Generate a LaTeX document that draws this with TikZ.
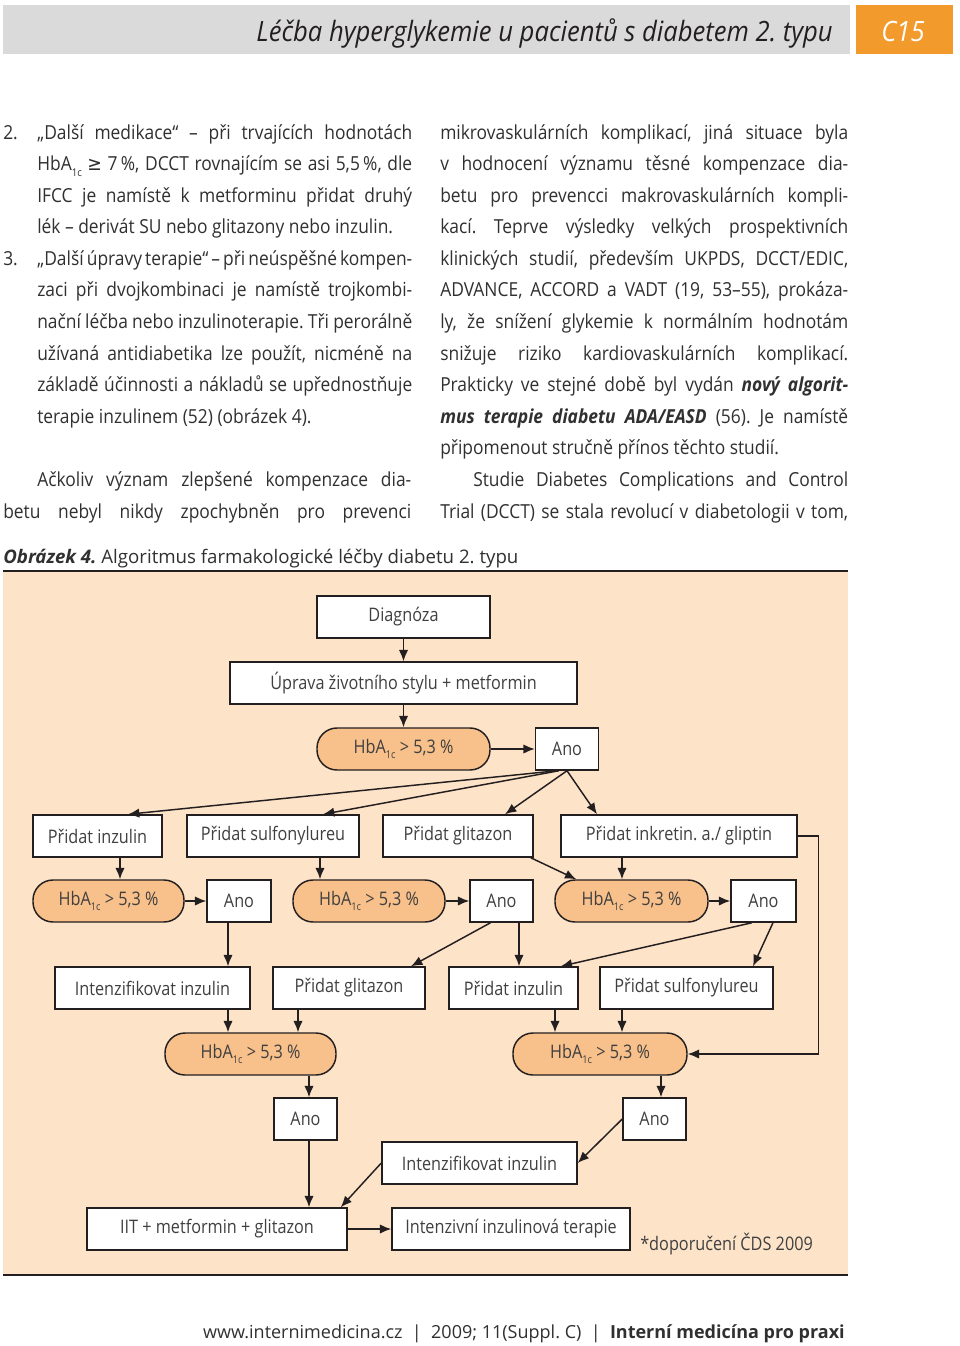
\documentclass[tikz,border=0pt]{standalone}
\usepackage{fontspec}
\setmainfont{Open Sans}[FakeStretch=0.9]
\newfontfamily\dfont{Open Sans}[FakeStretch=0.87]
\newfontfamily\hfont{Open Sans}[FakeStretch=0.915]
\newfontfamily\cfont{Open Sans}[FakeStretch=1.0]
\newfontfamily\symf{DejaVu Sans}[FakeStretch=0.9]
\usetikzlibrary{arrows.meta,calc}
\definecolor{peach}{HTML}{FDE3C8}
\definecolor{orf}{HTML}{F8C08A}
\definecolor{lc}{HTML}{231F20}
\definecolor{tc}{HTML}{404040}
\definecolor{bodyc}{HTML}{303030}
\definecolor{hdr}{HTML}{DADADA}
\definecolor{hor}{HTML}{F39A2C}
\newcommand\hba{HbA\raisebox{-0.55ex}{\fontsize{8}{8}\selectfont 1c}}
\newcommand\jl[2]{\makebox[#1][s]{#2}}
\tikzset{
  body/.style={anchor=base west, inner sep=0pt, text=bodyc, font=\fontsize{14.5}{17}\selectfont},
  box/.style={draw=lc, fill=white, line width=1.1pt, inner sep=0pt, text=tc, font=\dfont\fontsize{14}{16}\selectfont},
  hbox/.style={box, fill=orf, rounded corners=15pt},
  wh/.style 2 args={minimum width=#1*0.75pt, minimum height=#2*0.75pt},
  arr/.style={draw=lc, line width=1.1pt, -{Latex[length=8.5pt,width=7pt]}}
}
\begin{document}
\frenchspacing
\begin{tikzpicture}[x=0.75pt,y=-0.75pt]
\path[use as bounding box, fill=white] (0,0) rectangle (960,1346);
% header
\fill[hdr] (3,5) rectangle (850,54);
\fill[hor] (856,5) rectangle (953,54);
\node[anchor=base east, inner sep=0pt, text=lc] (title) at (833,41) {\hfont\itshape\fontsize{21}{24}\selectfont Léčba hyperglykemie u pacientů s diabetem 2. typu};
\node[anchor=base, inner sep=0pt, text=white] (c15) at (903,41) {\hfont\itshape\fontsize{21}{24}\selectfont C15};
% left column
\node[body] (l0n) at (3,139) {2.};
\node[body] (l0) at (37,139) {\jl{281.25pt}{„Další medikace“ – při trvajících hodnotách}};
\node[body] (l1) at (37,170.6) {\jl{281.25pt}{\hba\ {\symf ≥} 7\,\%, DCCT rovnajícím se asi 5,5\,\%, dle}};
\node[body] (l2) at (37,202.2) {\jl{281.25pt}{IFCC je namístě k metforminu přidat druhý}};
\node[body] (l3) at (37,233.7) {lék – derivát SU nebo glitazony nebo inzulin.};
\node[body] (l4n) at (3,265.3) {3.};
\node[body] (l4) at (37,265.3) {\jl{281.25pt}{„Další úpravy terapie“ – při neúspěšné kompen-}};
\node[body] (l5) at (37,296.9) {\jl{281.25pt}{zaci při dvojkombinaci je namístě trojkombi-}};
\node[body] (l6) at (37,328.5) {\jl{281.25pt}{nační léčba nebo inzulinoterapie. Tři perorálně}};
\node[body] (l7) at (37,360.1) {\jl{281.25pt}{užívaná antidiabetika lze použít, nicméně na}};
\node[body] (l8) at (37,391.6) {\jl{281.25pt}{základě účinnosti a nákladů se upřednostňuje}};
\node[body] (l9) at (37,423.2) {terapie inzulinem (52) (obrázek 4).};
\node[body] (l11) at (37,486.4) {\jl{280.5pt}{Ačkoliv význam zlepšené kompenzace dia-}};
\node[body] (l12) at (3,518) {\jl{306pt}{betu nebyl nikdy zpochybněn pro prevenci}};
% right column
\node[body] (r0) at (440,139) {\jl{306pt}{mikrovaskulárních komplikací, jiná situace byla}};
\node[body] (r1) at (440,170.6) {\jl{306pt}{v hodnocení významu těsné kompenzace dia-}};
\node[body] (r2) at (440,202.2) {\jl{306pt}{betu pro prevencci makrovaskulárních kompli-}};
\node[body] (r3) at (440,233.7) {\jl{306pt}{kací. Teprve výsledky velkých prospektivních}};
\node[body] (r4) at (440,265.3) {\jl{306pt}{klinických studií, především UKPDS, DCCT/EDIC,}};
\node[body] (r5) at (440,296.9) {\jl{306pt}{ADVANCE, ACCORD a VADT (19, 53–55), prokáza-}};
\node[body] (r6) at (440,328.5) {\jl{306pt}{ly, že snížení glykemie k normálním hodnotám}};
\node[body] (r7) at (440,360.1) {\jl{306pt}{snižuje riziko kardiovaskulárních komplikací.}};
\node[body] (r8) at (440,391.6) {\jl{306pt}{Prakticky ve stejné době byl vydán \textbf{\textit{nový algorit-}}}};
\node[body] (r9) at (440,423.2) {\jl{306pt}{\textbf{\textit{mus terapie diabetu ADA/EASD}} (56). Je namístě}};
\node[body] (r10) at (440,454.8) {připomenout stručně přínos těchto studií.};
\node[body] (r11) at (473,486.4) {\jl{281.25pt}{Studie Diabetes Complications and Control}};
\node[body] (r12) at (440,518) {\jl{306pt}{Trial (DCCT) se stala revolucí v diabetologii v tom,}};
% caption
\node[anchor=base west, inner sep=0pt, text=bodyc] (cap) at (3,563) {\cfont\fontsize{14}{16}\selectfont\textbf{\textit{Obrázek 4.}} Algoritmus farmakologické léčby diabetu 2. typu};
% figure panel
\fill[peach] (3,572) rectangle (848,1274);
\draw[lc, line width=1.8pt] (3,571) -- (848,571);
\draw[lc, line width=1.5pt] (3,1275) -- (848,1275);
% nodes
\node[box, wh={173}{42}] (diag) at (403.5,617) {Diagnóza};
\node[box, wh={347}{42}] (uprava) at (403.5,683) {Úprava životního stylu + metformin};
\node[hbox, wh={173}{42}] (h0) at (403.5,749) {\hba\ > 5,3 \%};
\node[box, wh={63}{42}] (a0) at (567,749) {Ano};
\node[box, wh={129}{42}] (p1) at (97.5,836) {Přidat inzulin};
\node[box, wh={172}{42}] (p2) at (273,836) {Přidat sulfonylureu};
\node[box, wh={150}{42}] (p3) at (458,836) {Přidat glitazon};
\node[box, wh={236}{42}] (p4) at (679,836) {Přidat inkretin. a./ gliptin};
\node[hbox, wh={151}{42}] (h1) at (108.5,901) {\hba\ > 5,3 \%};
\node[box, wh={64}{42}] (a1) at (239,901) {Ano};
\node[hbox, wh={152}{42}] (h2) at (369,901) {\hba\ > 5,3 \%};
\node[box, wh={63}{42}] (a2) at (501.5,901) {Ano};
\node[hbox, wh={153}{42}] (h3) at (631.5,901) {\hba\ > 5,3 \%};
\node[box, wh={65}{42}] (a3) at (763.5,901) {Ano};
\node[box, wh={195}{42}] (q1) at (152.5,988) {Intenzifikovat inzulin};
\node[box, wh={152}{42}] (q2) at (349,988) {Přidat glitazon};
\node[box, wh={129}{42}] (q3) at (513.5,988) {Přidat inzulin};
\node[box, wh={173}{42}] (q4) at (686.5,988) {Přidat sulfonylureu};
\node[hbox, wh={171}{42}] (h4) at (250.5,1054) {\hba\ > 5,3 \%};
\node[hbox, wh={174}{42}] (h5) at (600,1054) {\hba\ > 5,3 \%};
\node[box, wh={63}{42}] (a4) at (305.5,1119) {Ano};
\node[box, wh={63}{42}] (a5) at (654.5,1119) {Ano};
\node[box, wh={195}{42}] (iz) at (479.5,1163) {Intenzifikovat inzulin};
\node[box, wh={260}{42}] (iit) at (217,1229) {IIT + metformin + glitazon};
\node[box, wh={238}{42}] (ivt) at (511,1229) {Intenzivní inzulinová terapie};
\node[anchor=base west, inner sep=0pt, text=tc] (note) at (640,1250) {\dfont\fontsize{14}{16}\selectfont *doporučení ČDS 2009};
% connectors
\draw[arr] (diag) -- (uprava);
\draw[arr] (uprava) -- (h0);
\draw[arr] (h0) -- (a0);
\draw[arr] ($(a0.south)+(-10,0)$) -- ($(p1.north)+(30.5,0)$);
\draw[arr] ($(a0.south)+(-8,0)$) -- ($(p2.north)+(50,0)$);
\draw[arr] (a0.south) -- ($(p3.north)+(47,0)$);
\draw[arr] (a0.south) -- ($(p4.north)+(-82,0)$);
\draw[arr] ($(p1.south)+(22.5,0)$) -- ($(h1.north)+(11.5,0)$);
\draw[arr] ($(p2.south)+(47,0)$) -- ($(h2.north)+(-49,0)$);
\draw[arr] ($(p3.south east)+(-3,0)$) -- ($(h3.north west)+(22,0)$);
\draw[arr] ($(p4.south)+(-57,0)$) -- ($(h3.north)+(-9.5,0)$);
\draw[arr] (p4.east) -- ++(21,0) |- (h5.east);
\draw[arr] (h1) -- (a1);
\draw[arr] (h2) -- (a2);
\draw[arr] (h3) -- (a3);
\draw[arr] ($(a1.south)+(-11,0)$) -- ($(q1.north)+(75.5,0)$);
\draw[arr] ($(a2.south)+(-11,0)$) -- ($(q2.north)+(62,0)$);
\draw[arr] ($(a2.south)+(17.5,0)$) -- ($(q3.north)+(5.5,0)$);
\draw[arr] ($(a3.south)+(-11.5,0)$) -- ($(q3.north east)+(-18,0)$);
\draw[arr] ($(a3.south)+(9.5,0)$) -- ($(q4.north)+(66.5,0)$);
\draw[arr] ($(q1.south)+(75.5,0)$) -- ($(h4.north)+(-22.5,0)$);
\draw[arr] ($(q2.south)+(-51,0)$) -- ($(h4.north)+(47.5,0)$);
\draw[arr] ($(q3.south)+(41.5,0)$) -- ($(h5.north)+(-45,0)$);
\draw[arr] ($(q4.south)+(-64.5,0)$) -- ($(h5.north)+(22,0)$);
\draw[arr] ($(h4.south)+(58.5,0)$) -- ($(a4.north)+(3.5,0)$);
\draw[arr] ($(h5.south)+(61,0)$) -- ($(a5.north)+(6.5,0)$);
\draw[arr] ($(a4.south)+(3.5,0)$) -- ($(iit.north)+(92,0)$);
\draw[arr] (a5.west) -- (iz.east);
\draw[arr] (iz.west) -- ($(iit.north east)+(-7,0)$);
\draw[arr] (iit) -- (ivt);
% footer
\node[anchor=base east, inner sep=0pt, text=bodyc] (foot) at (845,1338) {\cfont\fontsize{13.5}{16}\selectfont www.internimedicina.cz \ | \ 2009; 11(Suppl. C) \ | \ \textbf{Interní medicína pro praxi}};
\end{tikzpicture}
\end{document}
